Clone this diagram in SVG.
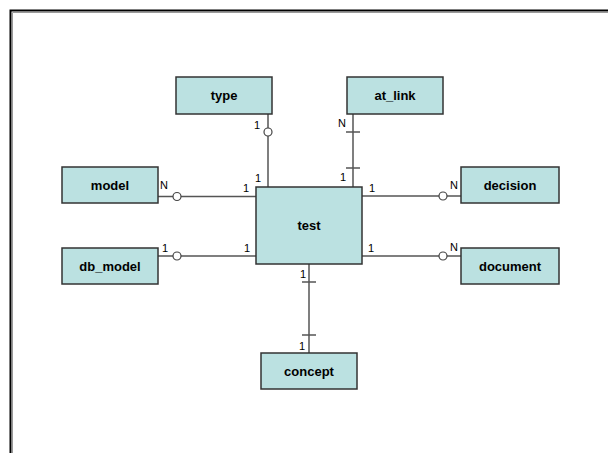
<svg xmlns="http://www.w3.org/2000/svg" width="608" height="453" viewBox="0 0 608 453">
<style>
.box{fill:#bbe1e1;stroke:#333;stroke-width:1.5}
.name{font-family:"Liberation Sans",Arial,sans-serif;font-weight:bold;font-size:13px;fill:#000;text-anchor:middle}
.lbl{font-family:"Liberation Sans",Arial,sans-serif;font-size:11px;fill:#000;text-anchor:middle}
.ln{stroke:#555;stroke-width:1.5;fill:none}
.circ{fill:#fff;stroke:#444;stroke-width:1.2}
</style>
<rect width="608" height="453" fill="#fff"/>
<g id="frame">
<path d="M10.5 453 V10.5 H608" fill="none" stroke="#000" stroke-width="2"/>
<path d="M12.5 453 V12.5 H608" fill="none" stroke="#999" stroke-width="1"/>
</g>
<g id="connectors">
<line class="ln" x1="268" y1="114" x2="268" y2="187"/>
<circle class="circ" cx="268" cy="132" r="4"/>
<line class="ln" x1="353" y1="114" x2="353" y2="187"/>
<line class="ln" x1="346" y1="132" x2="360" y2="132"/>
<line class="ln" x1="346" y1="168" x2="360" y2="168"/>
<line class="ln" x1="158" y1="196.5" x2="256" y2="196.5"/>
<circle class="circ" cx="177" cy="196.5" r="4"/>
<line class="ln" x1="158" y1="256" x2="256" y2="256"/>
<circle class="circ" cx="177" cy="256" r="4"/>
<line class="ln" x1="362" y1="196" x2="461" y2="196"/>
<circle class="circ" cx="443" cy="196" r="4"/>
<line class="ln" x1="362" y1="256" x2="461" y2="256"/>
<circle class="circ" cx="443" cy="256" r="4"/>
<line class="ln" x1="309" y1="264" x2="309" y2="353"/>
<line class="ln" x1="302" y1="282" x2="316" y2="282"/>
<line class="ln" x1="302" y1="335" x2="316" y2="335"/>
<text class="lbl" x="257" y="129">1</text>
<text class="lbl" x="258" y="182">1</text>
<text class="lbl" x="342" y="127">N</text>
<text class="lbl" x="343" y="181">1</text>
<text class="lbl" x="164" y="189">N</text>
<text class="lbl" x="246" y="192">1</text>
<text class="lbl" x="372" y="192">1</text>
<text class="lbl" x="454" y="189">N</text>
<text class="lbl" x="165" y="252">1</text>
<text class="lbl" x="247" y="252">1</text>
<text class="lbl" x="371" y="252">1</text>
<text class="lbl" x="454" y="251">N</text>
<text class="lbl" x="303" y="278">1</text>
<text class="lbl" x="302" y="350">1</text>
</g>
<g id="type"><rect class="box" x="176" y="77" width="96" height="37"/><text class="name" x="224" y="100">type</text></g>
<g id="at_link"><rect class="box" x="347" y="77" width="96" height="37"/><text class="name" x="395" y="100">at_link</text></g>
<g id="model"><rect class="box" x="62" y="167" width="96" height="36"/><text class="name" x="110" y="190">model</text></g>
<g id="db_model"><rect class="box" x="62" y="248" width="96" height="36"/><text class="name" x="110" y="271">db_model</text></g>
<g id="test"><rect class="box" x="256" y="187" width="106" height="77"/><text class="name" x="309" y="230">test</text></g>
<g id="decision"><rect class="box" x="461" y="167" width="98" height="36"/><text class="name" x="510" y="190">decision</text></g>
<g id="document"><rect class="box" x="461" y="248" width="98" height="36"/><text class="name" x="510" y="271">document</text></g>
<g id="concept"><rect class="box" x="261" y="353" width="96" height="36"/><text class="name" x="309" y="376">concept</text></g>
</svg>
